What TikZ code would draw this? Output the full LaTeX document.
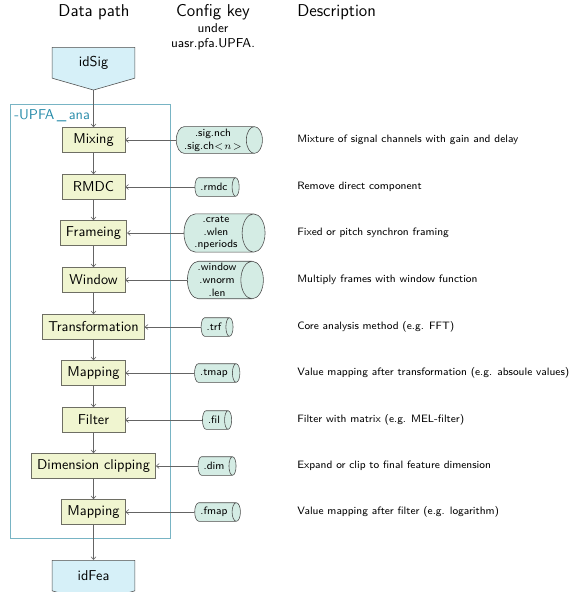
\documentclass[tikz,border=0pt]{standalone}
\usepackage{tikz}
\usetikzlibrary{shapes, arrows.meta, positioning, calc}
\renewcommand{\familydefault}{\sfdefault}
\definecolor{StepFill}{RGB}{240, 245, 208}
\definecolor{StepLine}{RGB}{110, 110, 100}
\definecolor{DataFill}{RGB}{214, 240, 248}
\definecolor{KeyFill}{RGB}{212, 236, 228}
\definecolor{GroupLine}{RGB}{120, 180, 196}
\definecolor{GroupText}{RGB}{40, 140, 170}
\definecolor{FlowLine}{RGB}{100, 100, 100}

\begin{document}
\begin{tikzpicture}[
        x=0.7pt, y=-0.7pt,
        heading/.style={font=\large},
        procstep/.style={rectangle, draw=StepLine, fill=StepFill, minimum width=44pt, minimum height=17.5pt, inner xsep=4pt},
        data/.style={signal, signal to=south, signal pointer angle=148, draw=black!70, fill=DataFill, minimum width=58pt, minimum height=25.5pt},
        cfgkey/.style={cylinder, draw=black!70, fill=KeyFill, font=\fontsize{7.5}{9}\selectfont, align=center, inner xsep=3pt, inner ysep=1.5pt, aspect=0.6, minimum width=13pt},
        descr/.style={font=\fontsize{7.5}{9}\selectfont, anchor=west, inner sep=0pt},
        flow/.style={draw=FlowLine, -{Straight Barb[length=2pt, width=3.5pt]}}
    ]

    \useasboundingbox (0,0) rectangle (572,592);

    \node[heading] (hdpath) at (94,12) {Data path};
    \node[heading] (hdkey) at (213,12) {Config key};
    \node[font=\small, align=center, anchor=north, inner sep=0pt] (hdunder) at (213,23) {under\\uasr.pfa.UPFA.};
    \node[heading, anchor=west, inner sep=0pt] (hddesc) at (297,12) {Description};

    \draw[GroupLine] (10,104) rectangle (170,538);
    \node[GroupText, anchor=west, inner sep=0pt] (grplabel) at (14,116) {-UPFA\,\_\,ana};

    \node[data, anchor=north] (idsig) at (93.5,47) {idSig};
    \node[data, anchor=north] (idfea) at (93.5,560) {idFea};

    \node[procstep] (mix) at (93.5,140) {Mixing};
    \node[procstep] (rmdc) at (93.5,187) {RMDC};
    \node[procstep] (frm) at (93.5,233) {Frameing};
    \node[procstep] (win) at (93.5,280) {Window};
    \node[procstep] (trf) at (93.5,327) {Transformation};
    \node[procstep] (tmap) at (93.5,373) {Mapping};
    \node[procstep] (fil) at (93.5,420) {Filter};
    \node[procstep] (dim) at (93.5,466) {Dimension clipping};
    \node[procstep] (fmap) at (93.5,512) {Mapping};

    \node[cfgkey] (kmix) at (213,140) {.sig.nch\\.sig.ch$<\!n\!>$};
    \node[cfgkey] (krmdc) at (214,187) {.rmdc};
    \node[cfgkey] (kfrm) at (216,233) {.crate\\.wlen\\.nperiods};
    \node[cfgkey] (kwin) at (217,280) {.window\\.wnorm\\.len};
    \node[cfgkey] (ktrf) at (214,327) {.trf};
    \node[cfgkey] (ktmap) at (214,373) {.tmap};
    \node[cfgkey] (kfil) at (214,420) {.fil};
    \node[cfgkey] (kdim) at (214,466) {.dim};
    \node[cfgkey] (kfmap) at (214,512) {.fmap};

    \node[descr] (dmix) at (297,140) {Mixture of signal channels with gain and delay};
    \node[descr] (drmdc) at (297,187) {Remove direct component};
    \node[descr] (dfrm) at (297,233) {Fixed or pitch synchron framing};
    \node[descr] (dwin) at (297,280) {Multiply frames with window function};
    \node[descr] (dtrf) at (297,327) {Core analysis method (e.g. FFT)};
    \node[descr] (dtmap) at (297,373) {Value mapping after transformation (e.g. absoule values)};
    \node[descr] (dfil) at (297,420) {Filter with matrix (e.g. MEL-filter)};
    \node[descr] (ddim) at (297,466) {Expand or clip to final feature dimension};
    \node[descr] (dfmap) at (297,512) {Value mapping after filter (e.g. logarithm)};

    % data path
    \foreach \a/\b in {idsig/mix, mix/rmdc, rmdc/frm, frm/win, win/trf, trf/tmap, tmap/fil, fil/dim, dim/fmap, fmap/idfea}
        \draw[flow] (\a.south) -- (\b.north);

    % config keys
    \foreach \k/\s in {kmix/mix, krmdc/rmdc, kfrm/frm, kwin/win, ktrf/trf, ktmap/tmap, kfil/fil, kdim/dim, kfmap/fmap}
        \draw[flow] (\k) -- (\s);

\end{tikzpicture}
\end{document}
